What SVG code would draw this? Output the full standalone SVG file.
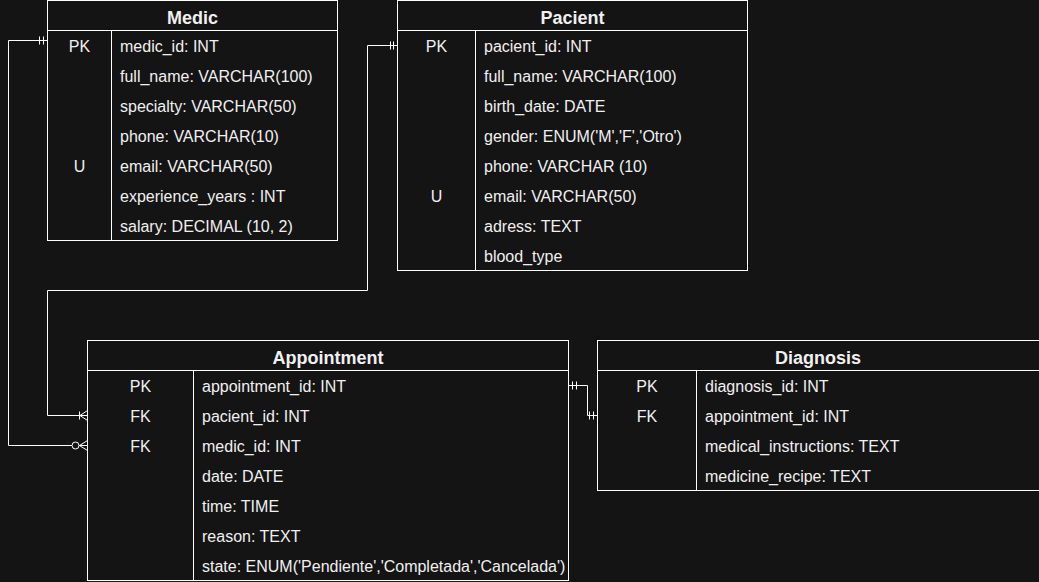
<svg xmlns="http://www.w3.org/2000/svg" width="1039" height="582" viewBox="0 0 1039 582">
<style>
.bg{fill:#141414}
.box{fill:none;stroke:#ffffff;stroke-width:1}
.ln{fill:none;stroke:#ffffff;stroke-width:1}
.title{font-family:"Liberation Sans",Arial,sans-serif;font-size:18px;font-weight:bold;fill:#f0f0f0;text-anchor:middle}
.key{font-family:"Liberation Sans",Arial,sans-serif;font-size:16px;fill:#f0f0f0;text-anchor:middle}
.fld{font-family:"Liberation Sans",Arial,sans-serif;font-size:16px;fill:#f0f0f0}
</style>
<rect class="bg" x="0" y="0" width="1039" height="582"/>

<g id="medic">
<rect class="box" x="47.5" y="0.5" width="290" height="240"/>
<line class="ln" x1="47.5" y1="30.5" x2="337.5" y2="30.5"/>
<line class="ln" x1="111.5" y1="30.5" x2="111.5" y2="240.5"/>
<text class="title" x="192.5" y="24">Medic</text>
<text class="key" x="79.5" y="52">PK</text>
<text class="key" x="79.5" y="172">U</text>
<text class="fld" x="120" y="52">medic_id: INT</text>
<text class="fld" x="120" y="82">full_name: VARCHAR(100)</text>
<text class="fld" x="120" y="112">specialty: VARCHAR(50)</text>
<text class="fld" x="120" y="142">phone: VARCHAR(10)</text>
<text class="fld" x="120" y="172">email: VARCHAR(50)</text>
<text class="fld" x="120" y="202">experience_years : INT</text>
<text class="fld" x="120" y="232">salary: DECIMAL (10, 2)</text>
</g>

<g id="pacient">
<rect class="box" x="397.5" y="0.5" width="350" height="270"/>
<line class="ln" x1="397.5" y1="30.5" x2="747.5" y2="30.5"/>
<line class="ln" x1="475.5" y1="30.5" x2="475.5" y2="270.5"/>
<text class="title" x="572.5" y="24">Pacient</text>
<text class="key" x="436.5" y="52">PK</text>
<text class="key" x="436.5" y="202">U</text>
<text class="fld" x="484" y="52">pacient_id: INT</text>
<text class="fld" x="484" y="82">full_name: VARCHAR(100)</text>
<text class="fld" x="484" y="112">birth_date: DATE</text>
<text class="fld" x="484" y="142">gender: ENUM('M','F','Otro')</text>
<text class="fld" x="484" y="172">phone: VARCHAR (10)</text>
<text class="fld" x="484" y="202">email: VARCHAR(50)</text>
<text class="fld" x="484" y="232">adress: TEXT</text>
<text class="fld" x="484" y="262">blood_type</text>
</g>

<g id="appointment">
<rect class="box" x="87.5" y="340.5" width="481" height="240"/>
<line class="ln" x1="87.5" y1="370.5" x2="568.5" y2="370.5"/>
<line class="ln" x1="193.5" y1="370.5" x2="193.5" y2="580.5"/>
<text class="title" x="328" y="364">Appointment</text>
<text class="key" x="140.5" y="392">PK</text>
<text class="key" x="140.5" y="422">FK</text>
<text class="key" x="140.5" y="452">FK</text>
<text class="fld" x="202" y="392">appointment_id: INT</text>
<text class="fld" x="202" y="422">pacient_id: INT</text>
<text class="fld" x="202" y="452">medic_id: INT</text>
<text class="fld" x="202" y="482">date: DATE</text>
<text class="fld" x="202" y="512">time: TIME</text>
<text class="fld" x="202" y="542">reason: TEXT</text>
<text class="fld" x="202" y="572">state: ENUM('Pendiente','Completada','Cancelada')</text>
</g>

<g id="diagnosis">
<rect class="box" x="597.5" y="340.5" width="445" height="150"/>
<line class="ln" x1="597.5" y1="370.5" x2="1042" y2="370.5"/>
<line class="ln" x1="696.5" y1="370.5" x2="696.5" y2="490.5"/>
<text class="title" x="818" y="364">Diagnosis</text>
<text class="key" x="647" y="392">PK</text>
<text class="key" x="647" y="422">FK</text>
<text class="fld" x="705" y="392">diagnosis_id: INT</text>
<text class="fld" x="705" y="422">appointment_id: INT</text>
<text class="fld" x="705" y="452">medical_instructions: TEXT</text>
<text class="fld" x="705" y="482">medicine_recipe: TEXT</text>
</g>

<g id="connectors">
<!-- Medic -> Appointment.medic_id -->
<path class="ln" d="M47.5 40.5 H8.5 V445.5 H72"/>
<path class="ln" d="M39.5 36.5 V44.5 M43.5 36.5 V44.5"/>
<circle class="ln" cx="75.5" cy="445.5" r="3.5"/>
<path class="ln" d="M79 445.5 H87.5 M79.5 445.5 L87.5 440.5 M79.5 445.5 L87.5 450.5"/>
<!-- Pacient -> Appointment.pacient_id -->
<path class="ln" d="M397.5 45.5 H367.5 V290.5 H47.5 V415.5 H87.5"/>
<path class="ln" d="M390.5 41.5 V49.5 M393.5 41.5 V49.5"/>
<path class="ln" d="M79.5 411.5 V419.5 M80 415.5 L87.5 410.5 M80 415.5 L87.5 420.5"/>
<!-- Appointment -> Diagnosis -->
<path class="ln" d="M568.5 385.5 H587.5 V415.5 H597.5"/>
<path class="ln" d="M572.5 381.5 V389.5 M576.5 381.5 V389.5"/>
<path class="ln" d="M589.5 411.5 V419.5 M593.5 411.5 V419.5"/>
</g>
</svg>
